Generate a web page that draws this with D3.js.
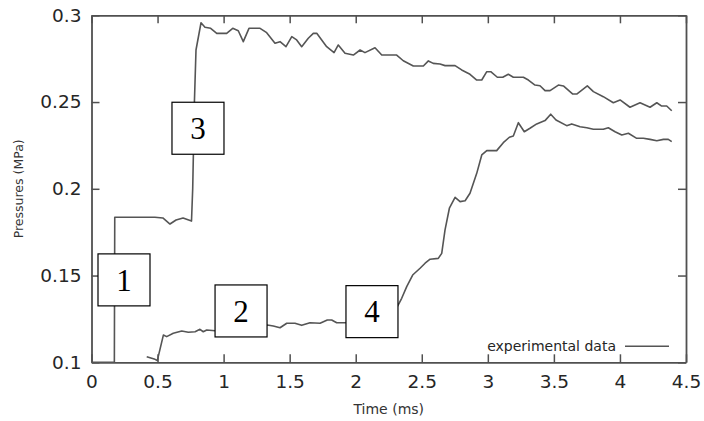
<!DOCTYPE html>
<html>
<head>
<meta charset="utf-8">
<script src="https://cdn.jsdelivr.net/npm/d3@7"></script>
<style>
  body { margin: 0; background: #fff; }
  svg { display: block; }
</style>
</head>
<body>
<svg width="704" height="421"></svg>
<script>
const width = 704;
const height = 421;

// tick labels
const xTicks = [0, 0.5, 1, 1.5, 2, 2.5, 3, 3.5, 4, 4.5];
const yTicks = [0.1, 0.15, 0.2, 0.25, 0.3];

// upper trace (sensors 1 -> 3)
const upperTime = [0, 0.173, 0.176, 0.48, 0.54, 0.594, 0.64, 0.693, 0.757, 0.766, 0.779, 0.791, 0.829,
  0.859, 0.902, 0.948, 1.023, 1.069, 1.111, 1.149, 1.192, 1.276, 1.326, 1.389, 1.427, 1.472, 1.516,
  1.553, 1.591, 1.641, 1.679, 1.705, 1.78, 1.836, 1.868, 1.919, 1.982, 2.033, 2.07, 2.146, 2.197,
  2.31, 2.36, 2.436, 2.512, 2.55, 2.587, 2.638, 2.676, 2.752, 2.802, 2.865, 2.916, 2.954, 2.992,
  3.022, 3.072, 3.113, 3.155, 3.193, 3.269, 3.307, 3.357, 3.395, 3.433, 3.471, 3.534, 3.572, 3.643,
  3.673, 3.753, 3.799, 3.874, 3.95, 4.001, 4.076, 4.152, 4.228, 4.279, 4.316, 4.354, 4.392];
const upperPressure = [0.100, 0.100, 0.1836, 0.1836, 0.1832, 0.1797, 0.182, 0.1832, 0.1814, 0.200, 0.250, 0.280, 0.2957,
  0.2931, 0.2925, 0.2896, 0.2896, 0.2925, 0.2911, 0.2848, 0.2925, 0.2925, 0.2900, 0.2839, 0.2848, 0.2819, 0.2877,
  0.2858, 0.2819, 0.2868, 0.2896, 0.2896, 0.2819, 0.2785, 0.2829, 0.2781, 0.2771, 0.2800, 0.2785, 0.2813, 0.2771,
  0.2771, 0.2738, 0.2708, 0.2708, 0.2737, 0.2723, 0.2719, 0.2710, 0.2710, 0.2685, 0.2660, 0.2627, 0.2627, 0.2675,
  0.2675, 0.2643, 0.2643, 0.2660, 0.2643, 0.2643, 0.2627, 0.2598, 0.2594, 0.2566, 0.2566, 0.2598, 0.2593, 0.2546,
  0.2546, 0.2593, 0.2560, 0.2531, 0.2496, 0.2512, 0.2470, 0.2496, 0.2470, 0.2496, 0.2477, 0.2477, 0.2450];

// lower trace (sensors 2 -> 4)
const lowerTime = [0.418, 0.481, 0.498, 0.544, 0.569, 0.619, 0.683, 0.733, 0.784, 0.821, 0.846, 0.872, 0.935,
  1.13, 1.331, 1.376, 1.427, 1.478, 1.54, 1.591, 1.654, 1.73, 1.785, 1.818, 1.856, 1.919, 2.1, 2.318,
  2.348, 2.386, 2.431, 2.487, 2.525, 2.563, 2.625, 2.651, 2.676, 2.709, 2.752, 2.79, 2.828, 2.865,
  2.916, 2.954, 2.992, 3.067, 3.117, 3.163, 3.193, 3.231, 3.276, 3.319, 3.37, 3.433, 3.476, 3.516,
  3.597, 3.635, 3.698, 3.749, 3.799, 3.874, 3.912, 3.963, 4.014, 4.064, 4.127, 4.177, 4.228, 4.279,
  4.329, 4.366, 4.392];
const lowerPressure = [0.1032, 0.1017, 0.1010, 0.1157, 0.1148, 0.1167, 0.1180, 0.1173, 0.1176, 0.1190, 0.1176, 0.1186, 0.1182,
  0.1200, 0.1215, 0.1209, 0.1199, 0.1225, 0.1225, 0.1213, 0.1228, 0.1225, 0.1244, 0.1244, 0.1228, 0.1228, 0.1240, 0.1325,
  0.1369, 0.1436, 0.1503, 0.1542, 0.1571, 0.1594, 0.1599, 0.1628, 0.1763, 0.1888, 0.1951, 0.1926, 0.1931, 0.1974,
  0.2089, 0.2195, 0.2220, 0.2220, 0.2266, 0.2297, 0.2304, 0.2381, 0.2329, 0.2349, 0.2374, 0.2393, 0.2430, 0.2397,
  0.2364, 0.2374, 0.2358, 0.2352, 0.2343, 0.2343, 0.2352, 0.2329, 0.2310, 0.2320, 0.2291, 0.2291, 0.2285, 0.2277,
  0.2285, 0.2285, 0.2272];

// numbered sensor boxes
const boxLabels = ["1", "2", "3", "4"];
const boxTime = [0.246, 1.132, 0.806, 2.123];
const boxPressure = [0.1475, 0.1296, 0.2349, 0.1292];

const margin = { top: 15.3, right: 18, bottom: 58.7, left: 91.5 };
const innerW = width - margin.left - margin.right;
const innerH = height - margin.top - margin.bottom;

const svg = d3.select('svg');
const g = svg.append('g').attr('transform', `translate(${margin.left},${margin.top})`);

const x = d3.scaleLinear().domain([0, 4.5]).range([0, innerW]);
const y = d3.scaleLinear().domain([0.1, 0.3]).range([innerH, 0]);

const axisColor = '#505050';
const tickFont = 'DejaVu Sans, sans-serif';

function styleAxis(sel) {
  sel.select('.domain').attr('stroke', axisColor).attr('stroke-width', 1.8);
  sel.selectAll('.tick line').attr('stroke', axisColor).attr('stroke-width', 1.5);
  sel.selectAll('.tick text')
    .attr('fill', '#262626')
    .style('font-family', tickFont)
    .style('font-size', '18.5px');
}

g.append('g')
  .attr('transform', `translate(0,${innerH})`)
  .call(d3.axisBottom(x).tickValues(xTicks).tickFormat(d => String(d)).tickSize(-8).tickSizeOuter(0).tickPadding(13))
  .call(styleAxis);

g.append('g')
  .call(d3.axisTop(x).tickValues(xTicks).tickFormat('').tickSize(-8).tickSizeOuter(0))
  .call(styleAxis);

g.append('g')
  .call(d3.axisLeft(y).tickValues(yTicks).tickFormat(d => String(d)).tickSize(-8).tickSizeOuter(0).tickPadding(10))
  .call(styleAxis);

g.append('g')
  .attr('transform', `translate(${innerW},0)`)
  .call(d3.axisRight(y).tickValues(yTicks).tickFormat('').tickSize(-8).tickSizeOuter(0))
  .call(styleAxis);

const line = d3.line()
  .x(d => x(d[0]))
  .y(d => y(d[1]));

const series = [
  d3.zip(upperTime, upperPressure),
  d3.zip(lowerTime, lowerPressure),
];

g.selectAll('path.trace')
  .data(series)
  .enter()
  .append('path')
  .attr('class', 'trace')
  .attr('fill', 'none')
  .attr('stroke', '#555')
  .attr('stroke-width', 1.6)
  .attr('stroke-linejoin', 'round')
  .attr('d', line);

// boxes
const boxSize = 52;
const boxes = g.selectAll('g.box')
  .data(boxLabels.map((label, i) => ({ label, t: boxTime[i], p: boxPressure[i] })))
  .enter()
  .append('g')
  .attr('class', 'box')
  .attr('transform', d => `translate(${x(d.t)},${y(d.p)})`);

boxes.append('rect')
  .attr('x', -boxSize / 2)
  .attr('y', -boxSize / 2)
  .attr('width', boxSize)
  .attr('height', boxSize)
  .attr('fill', '#fff')
  .attr('stroke', '#000')
  .attr('stroke-width', 1.2);

boxes.append('text')
  .attr('text-anchor', 'middle')
  .attr('dy', '0.35em')
  .style('font-family', 'Liberation Serif, Times New Roman, serif')
  .style('font-size', '31px')
  .attr('fill', '#000')
  .text(d => d.label);

// legend
const legend = g.append('g').attr('transform', `translate(${innerW - 61},${innerH - 16})`);
legend.append('text')
  .attr('x', -9)
  .attr('dy', '0.32em')
  .attr('text-anchor', 'end')
  .attr('fill', '#262626')
  .style('font-family', tickFont)
  .style('font-size', '14px')
  .text('experimental data');
legend.append('line')
  .attr('x1', 0)
  .attr('x2', 44)
  .attr('stroke', '#555')
  .attr('stroke-width', 1.6);

// axis titles
svg.append('text')
  .attr('x', margin.left + innerW / 2)
  .attr('y', 413.5)
  .attr('text-anchor', 'middle')
  .attr('fill', '#333')
  .style('font-family', tickFont)
  .style('font-size', '14px')
  .text('Time (ms)');

svg.append('text')
  .attr('transform', `translate(22.5,${margin.top + innerH / 2}) rotate(-90)`)
  .attr('text-anchor', 'middle')
  .attr('fill', '#333')
  .style('font-family', tickFont)
  .style('font-size', '12.5px')
  .text('Pressures (MPa)');
</script>
</body>
</html>
